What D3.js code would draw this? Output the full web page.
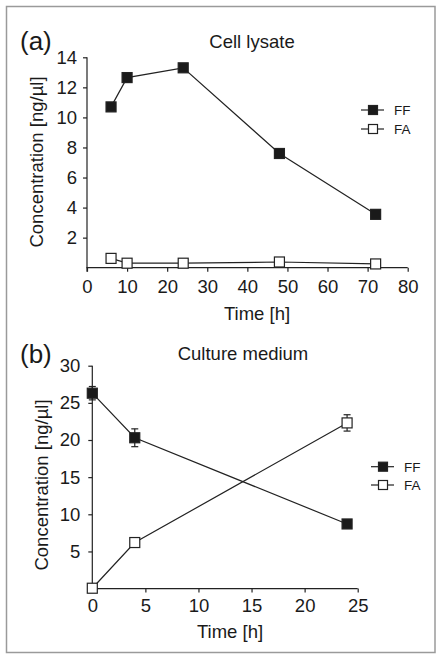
<!DOCTYPE html>
<html><head><meta charset="utf-8">
<script src="https://cdn.jsdelivr.net/npm/d3@7"></script>
<style>
html,body{margin:0;padding:0;background:#fff;}
svg text{font-family:"Liberation Sans",Arial,Helvetica,sans-serif;fill:#1a1a1a;}
</style></head>
<body>
<svg id="c" width="441" height="660"></svg>
<script>
// Panel (a): Cell lysate
const timeA = [6, 10, 24, 48, 72];
const ffA = [10.7, 12.65, 13.3, 7.6, 3.55];
const faA = [0.62, 0.3, 0.3, 0.38, 0.25];
const xTicksA = [0, 10, 20, 30, 40, 50, 60, 70, 80];
const yTicksA = [2, 4, 6, 8, 10, 12, 14];

// Panel (b): Culture medium
const timeB = [0, 4, 24];
const ffB = [26.3, 20.3, 8.7];
const ffBErr = [0.9, 1.2, 0];
const faB = [0.05, 6.2, 22.3];
const faBErr = [0, 0, 1.1];
const xTicksB = [0, 5, 10, 15, 20, 25];
const yTicksB = [5, 10, 15, 20, 25, 30];

const seriesNames = ["FF", "FA"];

const svg = d3.select("#c");
svg.append("rect").attr("x", 6.5).attr("y", 6.5).attr("width", 428.5).attr("height", 646)
  .attr("fill", "none").attr("stroke", "#9a9a9a").attr("stroke-width", 1.5);

function panel(cfg) {
  const g = svg.append("g");
  const x = d3.scaleLinear().domain(cfg.xDom).range(cfg.xRange);
  const y = d3.scaleLinear().domain(cfg.yDom).range(cfg.yRange);
  const ax = g.append("g").attr("transform", `translate(0,${cfg.yRange[0]})`)
    .call(d3.axisBottom(x).tickValues(cfg.xTicks).tickSize(4).tickSizeOuter(0).tickPadding(cfg.xPad));
  const ay = g.append("g").attr("transform", `translate(${cfg.xRange[0]},0)`)
    .call(d3.axisLeft(y).tickValues(cfg.yTicks).tickSize(4).tickSizeOuter(0).tickPadding(cfg.yPad));
  [ax, ay].forEach(a => {
    a.selectAll("path,line").attr("stroke", "#222").attr("stroke-width", 1.2);
    a.selectAll("text").attr("font-size", 18.5).attr("fill", "#1a1a1a")
      .style("font-family", '"Liberation Sans",Arial,sans-serif');
  });
  ax.select(".domain").attr("d", `M${cfg.xRange[0]-0.6},0H${cfg.xRange[1]}`);
  ay.select(".domain").attr("d", `M0,${cfg.yRange[0]+4}V${cfg.yRange[1]}`);

  const line = d3.line().x(d => x(d[0])).y(d => y(d[1]));
  const series = [
    {vals: cfg.ff, err: cfg.ffErr, fill: "#1a1a1a"},
    {vals: cfg.fa, err: cfg.faErr, fill: "#fff"}
  ];
  series.forEach(s => {
    const pts = cfg.t.map((t, i) => [t, s.vals[i], s.err ? s.err[i] : 0]);
    g.append("path").attr("d", line(pts)).attr("fill", "none").attr("stroke", "#222").attr("stroke-width", 1.2);
  });
  series.forEach(s => {
    const pts = cfg.t.map((t, i) => [t, s.vals[i], s.err ? s.err[i] : 0]);
    pts.filter(p => p[2] > 0).forEach(p => {
      const cx = x(p[0]), y1 = y(p[1] + p[2]), y2 = y(p[1] - p[2]);
      g.append("line").attr("x1", cx).attr("x2", cx).attr("y1", y1).attr("y2", y2).attr("stroke", "#222").attr("stroke-width", 1.2);
      [y1, y2].forEach(yy => g.append("line").attr("x1", cx - 3.5).attr("x2", cx + 3.5).attr("y1", yy).attr("y2", yy).attr("stroke", "#222").attr("stroke-width", 1.2));
    });
    g.selectAll(null).data(pts).enter().append("rect")
      .attr("x", d => x(d[0]) - 5).attr("y", d => y(d[1]) - 5).attr("width", 10).attr("height", 10)
      .attr("fill", s.fill).attr("stroke", "#222").attr("stroke-width", 1.2);
  });

  // labels
  g.append("text").attr("x", 20).attr("y", cfg.tagY).attr("font-size", 26).text(cfg.tag);
  g.append("text").attr("x", cfg.titleX).attr("y", cfg.titleY).attr("text-anchor", "middle").attr("font-size", 18.5).text(cfg.title);
  g.append("text").attr("x", cfg.xLabX).attr("y", cfg.xLabY).attr("text-anchor", "middle").attr("font-size", 18.5).text("Time [h]");
  g.append("text").attr("transform", `translate(${cfg.yLabX},${cfg.yLabY}) rotate(-90)`).attr("text-anchor", "middle")
    .attr("dy", "0.35em").attr("font-size", 18.5).text("Concentration [ng/\u00b5l]");

  // legend
  seriesNames.forEach((n, i) => {
    const ly = cfg.legY[i];
    g.append("line").attr("x1", cfg.legX).attr("x2", cfg.legX + 23).attr("y1", ly).attr("y2", ly).attr("stroke", "#222").attr("stroke-width", 1.2);
    g.append("rect").attr("x", cfg.legX + 7.5).attr("y", ly - 4.5).attr("width", 9).attr("height", 9)
      .attr("fill", series[i].fill).attr("stroke", "#222").attr("stroke-width", 1.2);
    g.append("text").attr("x", cfg.legX + 33).attr("y", ly).attr("dy", "0.36em").attr("font-size", 13.5).text(n);
  });
}

panel({
  t: timeA, ff: ffA, fa: faA, ffErr: null, faErr: null,
  xDom: [0, 80], yDom: [0, 14], xRange: [87, 407.7], yRange: [267.7, 57.3],
  xTicks: xTicksA, yTicks: yTicksA, xPad: 8, yPad: 6,
  tag: "(a)", tagY: 50, title: "Cell lysate", titleX: 252, titleY: 48,
  xLabX: 257, xLabY: 320, yLabX: 37, yLabY: 162,
  legX: 361, legY: [110, 129]
});

panel({
  t: timeB, ff: ffB, fa: faB, ffErr: ffBErr, faErr: faBErr,
  xDom: [0, 25], yDom: [0, 30], xRange: [92.3, 357.7], yRange: [588.6, 365.7],
  xTicks: xTicksB, yTicks: yTicksB, xPad: 6.5, yPad: 8,
  tag: "(b)", tagY: 363, title: "Culture medium", titleX: 243, titleY: 360,
  xLabX: 230, xLabY: 638, yLabX: 42, yLabY: 485,
  legX: 371, legY: [466.7, 485]
});
</script>
</body></html>
